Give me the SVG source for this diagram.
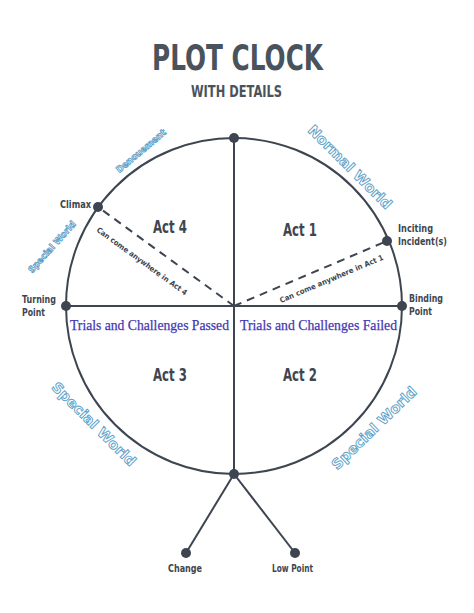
<svg xmlns="http://www.w3.org/2000/svg" width="474" height="613" viewBox="0 0 474 613">
<style>
.ln{stroke:#3d4550;stroke-width:2;fill:none}
.dash{stroke:#3d4550;stroke-width:2;fill:none;stroke-dasharray:8 6}
.dot{fill:#3d4550}
.title{font-family:"DejaVu Sans","Liberation Sans",sans-serif;font-weight:bold;fill:#4a535c}
.lbl{font-family:"DejaVu Sans","Liberation Sans",sans-serif;font-weight:bold;fill:#3d4650}
.act{font-family:"DejaVu Sans","Liberation Sans",sans-serif;font-weight:bold;font-size:17px;fill:#3d4650}
.note{font-family:"DejaVu Sans","Liberation Sans",sans-serif;font-weight:bold;font-size:7.5px;fill:#3d4650}
.world{font-family:"DejaVu Sans","Liberation Sans",sans-serif;font-weight:bold;fill:#ffffff;stroke:#5e9fc9;stroke-width:0.9;text-anchor:middle;dominant-baseline:central}
.trial{font-family:"Liberation Serif","Times New Roman",serif;font-size:14px;fill:#4538b2;stroke:#4538b2;stroke-width:0.25}
</style>
<rect width="474" height="613" fill="#ffffff"/>
<g id="title">
<text class="title" x="152" y="70" font-size="36" textLength="171" lengthAdjust="spacingAndGlyphs">PLOT CLOCK</text>
<text class="title" x="191" y="97" font-size="15" textLength="91" lengthAdjust="spacingAndGlyphs">WITH DETAILS</text>
</g>
<g id="connectors">
<circle class="ln" cx="234" cy="306" r="168"/>
<line class="ln" x1="234" y1="138" x2="234" y2="474"/>
<line class="ln" x1="66" y1="306" x2="402" y2="306"/>
<line class="dash" x1="234" y1="306" x2="98" y2="207"/>
<line class="dash" x1="234" y1="306" x2="387" y2="241"/>
<line class="ln" x1="234" y1="474" x2="186" y2="553"/>
<line class="ln" x1="234" y1="474" x2="295" y2="553"/>
</g>
<g id="top"><circle class="dot" cx="234" cy="138" r="5"/></g>
<g id="climax">
<circle class="dot" cx="98" cy="207" r="5"/>
<text class="lbl" x="60" y="208" font-size="10" textLength="31" lengthAdjust="spacingAndGlyphs">Climax</text>
</g>
<g id="inciting">
<circle class="dot" cx="387" cy="241" r="5"/>
<text class="lbl" x="398" y="232" font-size="11" textLength="35" lengthAdjust="spacingAndGlyphs">Inciting</text>
<text class="lbl" x="398" y="245" font-size="11" textLength="49" lengthAdjust="spacingAndGlyphs">Incident(s)</text>
</g>
<g id="turning">
<circle class="dot" cx="66" cy="306" r="5"/>
<text class="lbl" x="22" y="303" font-size="11" textLength="34" lengthAdjust="spacingAndGlyphs">Turning</text>
<text class="lbl" x="22" y="316" font-size="11" textLength="23" lengthAdjust="spacingAndGlyphs">Point</text>
</g>
<g id="binding">
<circle class="dot" cx="402" cy="306" r="5"/>
<text class="lbl" x="409" y="302" font-size="11" textLength="34" lengthAdjust="spacingAndGlyphs">Binding</text>
<text class="lbl" x="409" y="315" font-size="11" textLength="23" lengthAdjust="spacingAndGlyphs">Point</text>
</g>
<g id="bottom"><circle class="dot" cx="234" cy="474" r="5"/></g>
<g id="change">
<circle class="dot" cx="186" cy="553" r="5"/>
<text class="lbl" x="168" y="572" font-size="10" textLength="34" lengthAdjust="spacingAndGlyphs">Change</text>
</g>
<g id="lowpoint">
<circle class="dot" cx="295" cy="553" r="5"/>
<text class="lbl" x="272" y="572" font-size="10" textLength="41" lengthAdjust="spacingAndGlyphs">Low Point</text>
</g>
<g id="acts">
<text class="act" x="153" y="233" textLength="34" lengthAdjust="spacingAndGlyphs">Act 4</text>
<text class="act" x="283" y="236" textLength="34" lengthAdjust="spacingAndGlyphs">Act 1</text>
<text class="act" x="153" y="381" textLength="34" lengthAdjust="spacingAndGlyphs">Act 3</text>
<text class="act" x="283" y="381" textLength="34" lengthAdjust="spacingAndGlyphs">Act 2</text>
</g>
<g id="notes">
<text class="note" transform="translate(96,231) rotate(36)" textLength="110" lengthAdjust="spacingAndGlyphs">Can come anywhere in Act 4</text>
<text class="note" transform="translate(281,303) rotate(-23)" textLength="112" lengthAdjust="spacingAndGlyphs">Can come anywhere in Act 1</text>
</g>
<g id="trials">
<text class="trial" x="70" y="330" textLength="159" lengthAdjust="spacingAndGlyphs">Trials and Challenges Passed</text>
<text class="trial" x="240" y="330" textLength="157" lengthAdjust="spacingAndGlyphs">Trials and Challenges Failed</text>
</g>
<g id="worlds">
<text class="world" font-size="14" transform="translate(350,167) rotate(45)" textLength="112" lengthAdjust="spacingAndGlyphs">Normal World</text>
<text class="world" font-size="9" transform="translate(141,151) rotate(-40)" textLength="62" lengthAdjust="spacingAndGlyphs">Denouement</text>
<text class="world" font-size="9" transform="translate(52,247) rotate(-48)" textLength="66" lengthAdjust="spacingAndGlyphs">Special World</text>
<text class="world" font-size="14" transform="translate(94,424) rotate(45)" textLength="112" lengthAdjust="spacingAndGlyphs">Special World</text>
<text class="world" font-size="14" transform="translate(374,428) rotate(-44)" textLength="112" lengthAdjust="spacingAndGlyphs">Special World</text>
</g>
</svg>
